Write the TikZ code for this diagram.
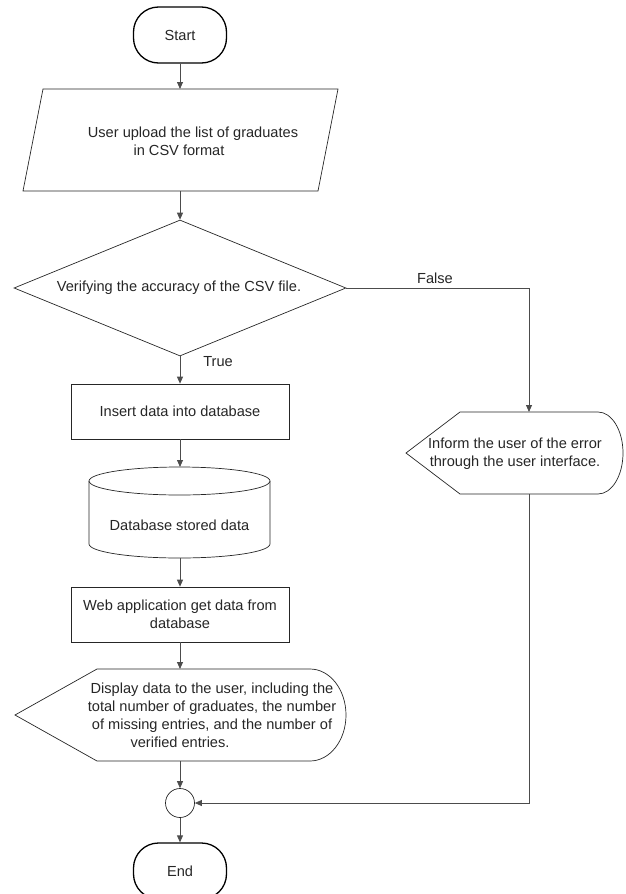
\documentclass[tikz,border=0pt]{standalone}
\usepackage{fontspec}
\setmainfont{Liberation Sans}
\usetikzlibrary{arrows.meta,shapes.geometric}
\begin{document}
\begin{tikzpicture}[x=1pt,y=1pt,
  every node/.style={font=\fontsize{14.6}{17.9}\selectfont, text=black!85},
  term/.style={draw=black, line width=1.3pt, rounded corners=25pt, minimum width=93pt, minimum height=56pt, inner sep=0pt},
  proc/.style={draw=black!85, line width=0.7pt, minimum width=218pt, minimum height=55pt, inner sep=0pt, align=center},
  anchorbox/.style={inner sep=0pt, outer sep=0pt},
  shp/.style={draw=black!85, line width=0.7pt},
  conn/.style={draw=black!70, line width=0.8pt, -{Triangle[length=7pt,width=6pt]}},
  plain/.style={draw=black!70, line width=0.8pt}
]
\useasboundingbox (0,0) rectangle (625,-894);

% Start
\node[term] (start) at (180,-35) {Start};

% Parallelogram (input)
\node[anchorbox, minimum width=315pt, minimum height=102pt] (para) at (180,-140) {};
\draw[shp] (43,-89) -- (338,-89) -- (318,-191) -- (23,-191) -- cycle;
\node[align=center] (parat) at (193,-141) {User upload the list of graduates\\in CSV format\hspace*{28pt}};

% Decision
\node[shp, diamond, aspect=2.44, minimum width=332pt, minimum height=136pt, inner sep=0pt] (dia) at (180,-288) {};
\node (diat) at (179,-288) {Verifying the accuracy of the CSV file.};

% Insert
\node[proc] (ins) at (180,-411.5) {Insert data into database};

% Cylinder
\node[anchorbox, minimum width=181pt, minimum height=91pt] (db) at (180,-512.5) {};
\draw[shp] (179.5,-481) ellipse [x radius=90.5, y radius=14];
\draw[shp] (89,-481) -- (89,-544) arc[start angle=180, end angle=360, x radius=90.5, y radius=14] -- (270,-481);
\node (dbt) at (179.5,-525) {Database stored data};

% Web application
\node[proc] (web) at (180,-614.5) {Web application get data from\\database};

% Display
\node[anchorbox, minimum width=331pt, minimum height=92pt] (disp) at (180,-715) {};
\draw[shp] (15,-715) -- (97,-669) -- (310,-669) arc[start angle=90, end angle=-90, x radius=36, y radius=46] -- (97,-761) -- cycle;
\node[align=center] (dispt) at (212,-715.5) {Display data to the user, including the\\total number of graduates, the number\\of missing entries, and the number of\\verified entries.\hspace*{64pt}};

% Inform (display shape)
\node[anchorbox, minimum width=217pt, minimum height=82pt] (inf) at (514.5,-453) {};
\draw[shp] (406,-453) -- (460,-412) -- (598,-412) arc[start angle=90, end angle=-90, x radius=25, y radius=41] -- (460,-494) -- cycle;
\node[align=center] (inft) at (515,-453.5) {Inform the user of the error\\through the user interface.};

% Connector circle
\node[shp, circle, minimum size=29pt, inner sep=0pt] (cc) at (180,-803) {};

% End
\node[term] (end) at (180,-871) {End};

% Connectors
\draw[conn] (start.south) -- (para.north);
\draw[conn] (para.south) -- (dia.north);
\draw[conn] (dia.south) -- (ins.north);
\draw[conn] (dia.east) -| ([xshift=14.5pt]inf.north);
\draw[conn] (ins.south) -- (db.north);
\draw[conn] (db.south) -- (web.north);
\draw[conn] (web.south) -- (disp.north);
\draw[conn] (disp.south) -- (cc.north);
\draw[conn] ([xshift=14.5pt]inf.south) |- (cc.east);
\draw[conn] (cc.south) -- (end.north);

% Labels
\node (truel) at (218,-362) {True};
\node (falsel) at (435,-278) {False};
\end{tikzpicture}
\end{document}
